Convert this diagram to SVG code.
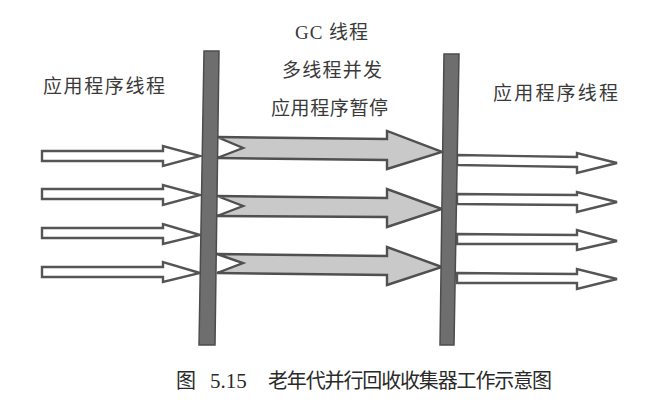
<svg xmlns="http://www.w3.org/2000/svg" width="647" height="404" viewBox="0 0 647 404">
  <style>
    .label { font-family: "Liberation Serif", "Noto Sans CJK SC", serif; font-size: 19px; fill: #3a3a3a; }
    .caption { font-family: "Liberation Serif", "Noto Sans CJK SC", serif; font-size: 20px; fill: #2a2a2a; }
    .app { fill: #ffffff; stroke: #555555; stroke-width: 2.4; stroke-linejoin: miter; }
    .gc { fill: #c9c9c9; stroke: #505050; stroke-width: 2.4; stroke-linejoin: miter; }
    .bar { fill: #6e6e6e; stroke: #4c4c4c; stroke-width: 1.5; }
  </style>
  <rect width="647" height="404" fill="#ffffff"/>

  <!-- thread arrows -->
  <g id="connectors">
    <!-- application threads before the pause -->
    <polygon class="app" points="42,151 163,151 163,146 200,156 163,166 163,161 42,161"/>
    <polygon class="app" points="42,189 163,189 163,185 200,195 163,205 163,199 42,199"/>
    <polygon class="app" points="42,228 163,228 163,224 200,235 163,244 163,238 42,238"/>
    <polygon class="app" points="42,267 163,267 163,262 200,273 163,282 163,277 42,277"/>

    <!-- parallel GC threads -->
    <polygon class="gc" points="217,137 387,139 387,131 442,152 387,169 387,160 217,158 243,148"/>
    <polygon class="gc" points="217,196 387,198 387,189 442,209 387,227 387,217 217,216 243,206"/>
    <polygon class="gc" points="217,254 387,256 387,247 442,267 387,285 387,275 217,273 243,263"/>

    <!-- application threads after the pause -->
    <polygon class="app" points="457,155 577,157 577,153 617,163 577,173 577,167 457,165"/>
    <polygon class="app" points="457,194 577,195 577,192 617,202 577,212 577,205 457,204"/>
    <polygon class="app" points="457,234 577,235 577,230 617,241 577,250 577,244 457,244"/>
    <polygon class="app" points="457,273 577,274 577,269 617,279 577,289 577,283 457,283"/>
  </g>

  <!-- safepoint bars -->
  <g id="pause-start">
    <polygon class="bar" points="204,51 219,51 215,345 199,345"/>
  </g>
  <g id="pause-end">
    <polygon class="bar" points="444,54 459,54 454,345 440,345"/>
  </g>

  <!-- labels -->
  <g id="label-app-left">
    <text class="label" x="43" y="93" textLength="122" lengthAdjust="spacing">应用程序线程</text>
  </g>
  <g id="label-gc">
    <text class="label" x="295" y="39" textLength="73" lengthAdjust="spacing">GC 线程</text>
    <text class="label" x="282" y="77" textLength="100" lengthAdjust="spacing">多线程并发</text>
    <text class="label" x="271" y="115" textLength="117" lengthAdjust="spacing">应用程序暂停</text>
  </g>
  <g id="label-app-right">
    <text class="label" x="493" y="100" textLength="125" lengthAdjust="spacing">应用程序线程</text>
  </g>

  <!-- caption -->
  <g id="caption">
    <text class="caption" x="176" y="388">图<tspan x="210" font-size="21">5.15</tspan></text>
    <text class="caption" x="268" y="388" textLength="284" lengthAdjust="spacing">老年代并行回收收集器工作示意图</text>
  </g>
</svg>
